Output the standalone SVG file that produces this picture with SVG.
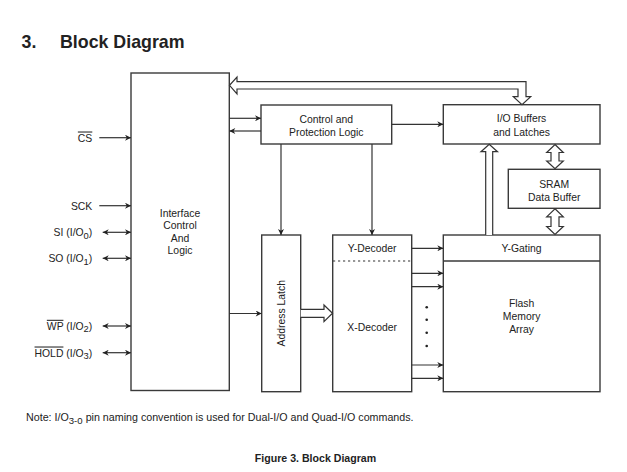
<svg xmlns="http://www.w3.org/2000/svg" width="627" height="472" viewBox="0 0 627 472">
<style>
text{font-family:"Liberation Sans",Arial,sans-serif;fill:#222;}
.lbl{font-size:10.4px;}
.c{text-anchor:middle;}
.e{text-anchor:end;}
.box{fill:#fff;stroke:#3a3a3a;stroke-width:1.4;}
.ln{fill:none;stroke:#333;stroke-width:1.2;}
.hol{fill:#fff;stroke:#333;stroke-width:1.2;stroke-linejoin:miter;}
.sub{font-size:9.4px;}
.ov{text-decoration:overline;}
</style>
<defs>
<marker id="ah" viewBox="0 0 10 10" refX="10" refY="5" markerWidth="9" markerHeight="6" markerUnits="userSpaceOnUse" orient="auto-start-reverse">
<path d="M0,0 L10,5 L0,10 L3,5 z" fill="#222"/>
</marker>
</defs>
<rect width="627" height="472" fill="#fff"/>
<text x="21.5" y="47.7" style="font-size:17.8px;font-weight:bold">3.</text>
<text x="60" y="47.7" style="font-size:17.8px;font-weight:bold">Block Diagram</text>

<g id="interface"><rect class="box" x="131" y="73" width="98.3" height="317.5"/>
<text class="lbl c" x="180" y="216.5">Interface</text>
<text class="lbl c" x="180" y="228.7">Control</text>
<text class="lbl c" x="180" y="241.8">And</text>
<text class="lbl c" x="180" y="254">Logic</text></g>

<g id="control"><rect class="box" x="261" y="105" width="130.7" height="39"/>
<text class="lbl c" x="326.3" y="122.8">Control and</text>
<text class="lbl c" x="326.3" y="135.8">Protection Logic</text></g>

<g id="iobuf"><rect class="box" x="443.3" y="104.7" width="156.7" height="39.3"/>
<text class="lbl c" x="521.6" y="122">I/O Buffers</text>
<text class="lbl c" x="521.6" y="135.6">and Latches</text></g>

<g id="sram"><rect class="box" x="508.3" y="169.3" width="91.7" height="39"/>
<text class="lbl c" x="554.2" y="188">SRAM</text>
<text class="lbl c" x="554.2" y="200.5">Data Buffer</text></g>

<g id="addrlatch"><rect class="box" x="261.7" y="235" width="39" height="156.7"/>
<text class="lbl c" transform="translate(284.8,313.3) rotate(-90)">Address Latch</text></g>

<g id="decoder"><rect class="box" x="332.7" y="235" width="79" height="156.7"/>
<line x1="333" y1="261" x2="411.5" y2="261" stroke="#333" stroke-width="1.2" stroke-dasharray="2.2,2.8"/>
<text class="lbl c" x="372.2" y="251.8">Y-Decoder</text>
<text class="lbl c" x="372.2" y="330.8">X-Decoder</text></g>

<g id="array"><rect class="box" x="443.3" y="235" width="156.7" height="156.7"/>
<line x1="443.3" y1="261" x2="600" y2="261" stroke="#3a3a3a" stroke-width="1.4"/>
<text class="lbl c" x="521.6" y="251.8">Y-Gating</text>
<text class="lbl c" x="521.6" y="306.8">Flash</text>
<text class="lbl c" x="521.6" y="320.3">Memory</text>
<text class="lbl c" x="521.6" y="332.8">Array</text></g>

<g id="pins">
<text class="lbl e" x="92.3" y="141.5"><tspan class="ov">CS</tspan></text>
<text class="lbl e" x="92.3" y="209.5">SCK</text>
<text class="lbl e" x="92.3" y="236">SI (I/O<tspan class="sub" dy="2.5">0</tspan><tspan dy="-2.5">)</tspan></text>
<text class="lbl e" x="92.3" y="262">SO (I/O<tspan class="sub" dy="2.5">1</tspan><tspan dy="-2.5">)</tspan></text>
<text class="lbl e" x="92.3" y="329.8"><tspan class="ov">WP</tspan> (I/O<tspan class="sub" dy="2.5">2</tspan><tspan dy="-2.5">)</tspan></text>
<text class="lbl e" x="92.3" y="356.5"><tspan class="ov">HOLD</tspan> (I/O<tspan class="sub" dy="2.5">3</tspan><tspan dy="-2.5">)</tspan></text>
</g>

<g id="connectors">
<line class="ln" x1="99.3" y1="137.7" x2="131" y2="137.7" marker-end="url(#ah)"/>
<line class="ln" x1="99.3" y1="205.7" x2="131" y2="205.7" marker-end="url(#ah)"/>
<line class="ln" x1="102.7" y1="232.3" x2="131" y2="232.3" marker-start="url(#ah)" marker-end="url(#ah)"/>
<line class="ln" x1="102.7" y1="258.3" x2="131" y2="258.3" marker-start="url(#ah)" marker-end="url(#ah)"/>
<line class="ln" x1="102.7" y1="326" x2="131" y2="326" marker-start="url(#ah)" marker-end="url(#ah)"/>
<line class="ln" x1="102.7" y1="352.7" x2="131" y2="352.7" marker-start="url(#ah)" marker-end="url(#ah)"/>
<line class="ln" x1="229.3" y1="118.3" x2="261" y2="118.3" marker-end="url(#ah)"/>
<line class="ln" x1="261" y1="131" x2="229.3" y2="131" marker-end="url(#ah)"/>
<line class="ln" x1="391.7" y1="124.3" x2="443.3" y2="124.3" marker-end="url(#ah)"/>
<line class="ln" x1="281" y1="144" x2="281" y2="235" marker-end="url(#ah)"/>
<line class="ln" x1="372" y1="144" x2="372" y2="235" marker-end="url(#ah)"/>
<line class="ln" x1="229.3" y1="313.5" x2="261.7" y2="313.5" marker-end="url(#ah)"/>
<line class="ln" x1="411.7" y1="248.3" x2="443.3" y2="248.3" marker-end="url(#ah)"/>
<line class="ln" x1="411.7" y1="273.3" x2="443.3" y2="273.3" marker-end="url(#ah)"/>
<line class="ln" x1="411.7" y1="286.7" x2="443.3" y2="286.7" marker-end="url(#ah)"/>
<line class="ln" x1="411.7" y1="365" x2="443.3" y2="365" marker-end="url(#ah)"/>
<line class="ln" x1="411.7" y1="378.3" x2="443.3" y2="378.3" marker-end="url(#ah)"/>
<g fill="#222"><circle cx="426.7" cy="307.3" r="1.3"/><circle cx="426.7" cy="319.8" r="1.3"/><circle cx="426.7" cy="332.7" r="1.3"/><circle cx="426.7" cy="346" r="1.3"/></g>
<polygon class="hol" points="237,81.7 526,81.7 526,96.7 530.7,96.7 522,104.7 513.3,96.7 518,96.7 518,89 237,89 237,94 229.5,85.3 237,77"/>
<polyline class="hol" points="485.7,235 485.7,151.7 481,151.7 489.2,144.3 497.5,151.7 492.7,151.7 492.7,235"/>
<polygon class="hol" points="555,144.5 563.3,152.5 559,152.5 559,161 563.3,161 555,168.8 546.7,161 551,161 551,152.5 546.7,152.5"/>
<polygon class="hol" points="555,208.8 563.3,216.8 559,216.8 559,226.5 563.3,226.5 555,234.5 546.7,226.5 551,226.5 551,216.8 546.7,216.8"/>
<polyline class="hol" points="300.7,309.3 324,309.3 324,305 332.5,313.3 324,321.6 324,317.3 300.7,317.3"/>
</g>

<text x="26" y="420.7" style="font-size:10.7px">Note:  I/O<tspan style="font-size:9.6px" dy="3">3-0</tspan><tspan dy="-3"> pin naming convention is used for Dual-I/O and Quad-I/O commands.</tspan></text>
<text x="315.5" y="462" class="c" style="font-size:10.6px;font-weight:bold">Figure 3. Block Diagram</text>
</svg>
